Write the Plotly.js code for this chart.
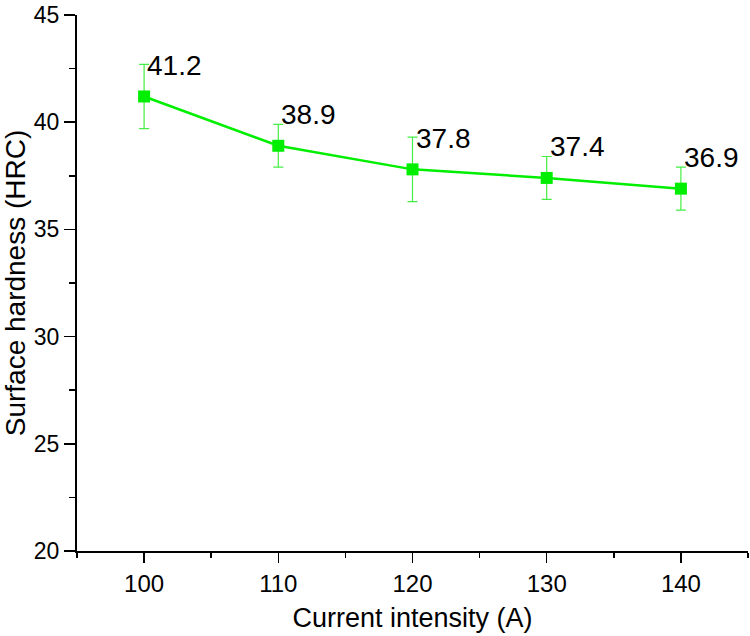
<!DOCTYPE html>
<html>
<head>
<meta charset="utf-8">
<script src="https://cdn.plot.ly/plotly-3.0.1.min.js"></script>
<style>html,body{margin:0;padding:0;background:#fff;}#chart{width:750px;height:636px;}</style>
</head>
<body>
<div id="chart"></div>
<script>
const currents = [100, 110, 120, 130, 140];
const hardness = [41.2, 38.9, 37.8, 37.4, 36.9];
const errors = [1.5, 1.0, 1.5, 1.0, 1.0];
const labels = ['41.2', '38.9', '37.8', '37.4', '36.9'];
const xTicks = [100, 110, 120, 130, 140];
const yTicks = [20, 25, 30, 35, 40, 45];

const FONT = 'Arial, "Liberation Sans", sans-serif';

const trace = {
  x: currents,
  y: hardness,
  type: 'scatter',
  mode: 'lines+markers',
  line: {color: '#00ee00', width: 2.5},
  marker: {symbol: 'square', size: 12, color: '#00ee00'},
  error_y: {type: 'data', array: errors, visible: true, color: '#44ee44', thickness: 1.2, width: 5},
  showlegend: false,
  hoverinfo: 'none'
};

const annotations = currents.map((c, i) => ({
  x: c, y: hardness[i], xref: 'x', yref: 'y',
  text: labels[i], showarrow: false,
  xanchor: 'left', yanchor: 'middle',
  xshift: 1, yshift: 31,
  font: {family: FONT, size: 28, color: '#000'}
}));

const layout = {
  width: 750, height: 636,
  margin: {l: 77, r: 2, t: 15, b: 85, pad: 0},
  paper_bgcolor: '#fff', plot_bgcolor: '#fff',
  font: {family: FONT, color: '#000'},
  xaxis: {
    range: [95, 145],
    tickvals: xTicks,
    ticktext: xTicks.map(String),
    ticks: 'outside', ticklen: 10, tickwidth: 1.5, tickcolor: '#000',
    minor: {tickvals: [95, 105, 115, 125, 135, 145], ticks: 'outside', ticklen: 5, tickwidth: 1.5, tickcolor: '#000'},
    showline: true, linecolor: '#000', linewidth: 2,
    showgrid: false, zeroline: false,
    ticklabeloverflow: 'allow',
    tickfont: {family: FONT, size: 24, color: '#000'},
    title: {text: 'Current intensity (A)', font: {family: FONT, size: 27, color: '#000'}, standoff: 12}
  },
  yaxis: {
    range: [20, 45],
    tickvals: yTicks,
    ticktext: yTicks.map(String),
    ticks: 'outside', ticklen: 11, tickwidth: 1.5, tickcolor: '#000',
    minor: {tickvals: [22.5, 27.5, 32.5, 37.5, 42.5], ticks: 'outside', ticklen: 6, tickwidth: 1.5, tickcolor: '#000'},
    showline: true, linecolor: '#000', linewidth: 2,
    showgrid: false, zeroline: false,
    ticklabeloverflow: 'allow',
    tickfont: {family: FONT, size: 23, color: '#000'},
    title: {text: 'Surface hardness (HRC)', font: {family: FONT, size: 28, color: '#000'}, standoff: 6}
  },
  annotations: annotations
};

Plotly.newPlot('chart', [trace], layout, {displayModeBar: false, staticPlot: true});
</script>
</body>
</html>
